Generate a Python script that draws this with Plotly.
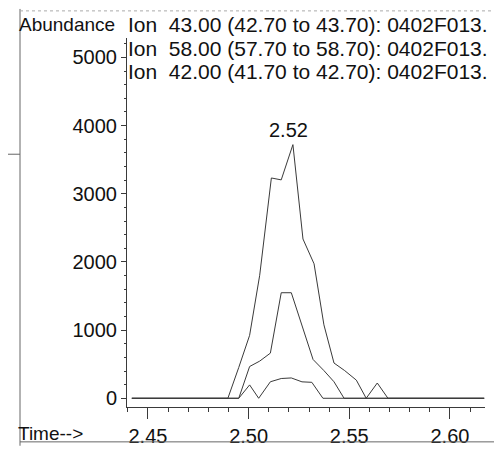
import plotly.graph_objects as go

# Retention time samples (min) and abundances
time_43 = [2.442, 2.4897, 2.4951, 2.5005, 2.5055, 2.5113, 2.5162, 2.5220, 2.5270,
           2.5325, 2.5374, 2.5424, 2.5477, 2.5535, 2.5584, 2.5639, 2.5692, 2.617]
ion_43 = [0, 0, 452, 923, 1804, 3231, 3203, 3720, 2336,
          1972, 1077, 517, 406, 266, 0, 224, 0, 0]

time_58 = [2.442, 2.4951, 2.5005, 2.5055, 2.5108, 2.5162, 2.5212, 2.5265, 2.5320,
           2.5374, 2.5424, 2.5474, 2.617]
ion_58 = [0, 0, 466, 545, 662, 1548, 1548, 1081, 569, 406, 242, 0, 0]

time_42 = [2.442, 2.4951, 2.5005, 2.5050, 2.5108, 2.5162, 2.5212, 2.5265, 2.5314,
           2.5369, 2.617]
ion_42 = [0, 0, 196, 0, 242, 290, 298, 241, 234, 0, 0]

legend_lines = ["Ion  43.00 (42.70 to 43.70): 0402F013.",
                "Ion  58.00 (57.70 to 58.70): 0402F013.",
                "Ion  42.00 (41.70 to 42.70): 0402F013."]
peak_time = 2.52
peak_label = "2.52"

FONT = "Liberation Sans, Arial, sans-serif"
LINE = "#3a3a3a"

fig = go.Figure()
for t, v in [(time_43, ion_43), (time_58, ion_58), (time_42, ion_42)]:
    fig.add_trace(go.Scatter(x=t, y=v, mode="lines",
                             line=dict(color=LINE, width=1), showlegend=False,
                             hoverinfo="skip"))

W, H = 502, 451
L, R, T, B = 119, 25, 30, 40
pw, ph = W - L - R, H - T - B


def px(x):
    return (x - L) / pw


def py(y):
    return (H - B - y) / ph


fig.update_layout(
    width=W, height=H,
    margin=dict(l=L, r=R, t=T, b=B),
    paper_bgcolor="white", plot_bgcolor="white",
    font=dict(family=FONT, size=20, color="#111"),
    xaxis=dict(range=[2.4396, 2.6174], tick0=2.45, dtick=0.05, tickformat=".2f",
               showline=True, linecolor=LINE, linewidth=1, ticks="outside",
               ticklen=11, tickcolor=LINE, showgrid=False, zeroline=False,
               minor=dict(dtick=0.01, ticklen=4, ticks="outside", tickcolor=LINE,
                          showgrid=False),
               tickfont=dict(size=20)),
    yaxis=dict(range=[-128, 5284], tick0=0, dtick=1000,
               showline=True, linecolor=LINE, linewidth=1, ticks="outside",
               ticklen=5, tickcolor=LINE, showgrid=False, zeroline=False,
               minor=dict(dtick=200, ticklen=2, ticks="outside", tickcolor=LINE,
                          showgrid=False),
               tickfont=dict(size=20)),
)

# text labels
fig.add_annotation(x=px(9), y=py(16), xref="paper", yref="paper", text="Abundance",
                   showarrow=False, xanchor="left", yanchor="middle",
                   font=dict(size=19))
for i, s in enumerate(legend_lines):
    fig.add_annotation(x=px(118), y=py(16 + 24.5 * i), xref="paper", yref="paper",
                       text=s, showarrow=False, xanchor="left", yanchor="middle",
                       font=dict(size=21))
fig.add_annotation(x=px(8), y=py(438), xref="paper", yref="paper", text="Time-->",
                   showarrow=False, xanchor="left", yanchor="middle",
                   font=dict(size=19))
fig.add_annotation(x=peak_time, y=max(ion_43), text=peak_label, showarrow=False,
                   yanchor="bottom", yshift=2, font=dict(size=20))

# frame of the printed page
frame = dict(color="#666", width=1)
fig.add_shape(type="line", xref="paper", yref="paper", x0=px(12), x1=px(12),
              y0=py(0), y1=py(451), line=frame)
fig.add_shape(type="line", xref="paper", yref="paper", x0=px(12), x1=px(490),
              y0=py(2), y1=py(2), line=dict(color="#aaa", width=1, dash="dot"))
fig.add_shape(type="line", xref="paper", yref="paper", x0=px(490), x1=px(490),
              y0=py(0), y1=py(447), line=frame)
fig.add_shape(type="line", xref="paper", yref="paper", x0=px(12), x1=px(490),
              y0=py(447), y1=py(447), line=frame)
fig.add_shape(type="line", xref="paper", yref="paper", x0=px(0), x1=px(12),
              y0=py(150), y1=py(150), line=frame)

fig.write_html("out.html")
